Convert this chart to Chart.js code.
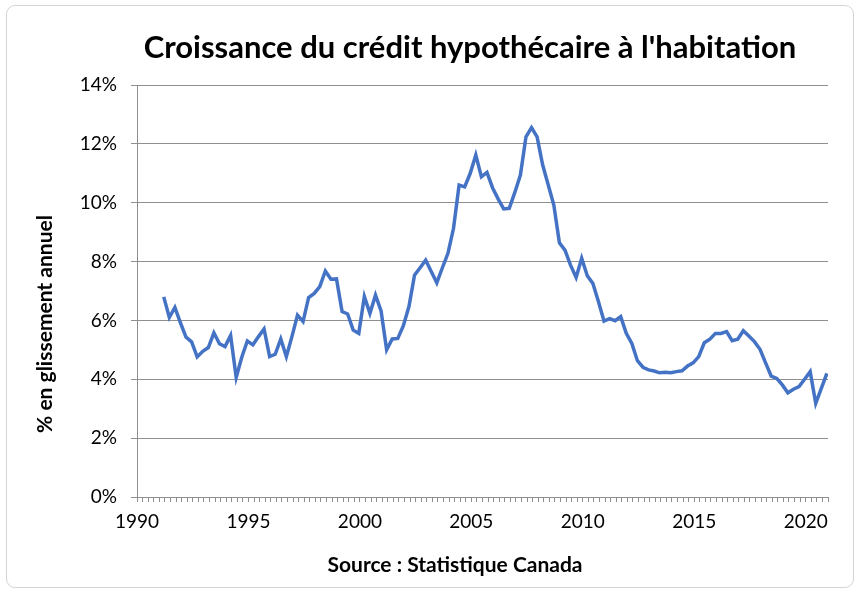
<!DOCTYPE html>
<html>
<head>
<meta charset="utf-8">
<script src="https://cdn.jsdelivr.net/npm/chart.js@4/dist/chart.umd.min.js"></script>
<style>
  html, body { margin: 0; padding: 0; background: #fff; }
  #wrap { position: relative; width: 859px; height: 592px; }
  #frame { position: absolute; left: 6px; top: 5px; width: 846px; height: 581px;
           border: 1px solid #d4d4d4; border-radius: 9px; pointer-events: none; }
  canvas { position: absolute; left: 0; top: 0; }
</style>
</head>
<body>
<div id="wrap">
  <canvas id="c" width="859" height="592"></canvas>
  <div id="frame"></div>
</div>
<script>
// Quarterly year-over-year growth of residential mortgage credit (%), first quarter plotted ~1991.2
const firstPeriod = 1991.2;
const periodStep = 0.25;
const growth = [
  6.80, 6.10, 6.44, 5.92, 5.43, 5.27, 4.76, 4.95, 5.08, 5.58,
  5.21, 5.11, 5.49, 4.06, 4.75, 5.30, 5.17, 5.45, 5.71, 4.77,
  4.85, 5.37, 4.77, 5.45, 6.18, 5.96, 6.78, 6.92, 7.15, 7.68,
  7.40, 7.41, 6.30, 6.22, 5.67, 5.56, 6.81, 6.24, 6.86, 6.32,
  5.00, 5.37, 5.39, 5.82, 6.47, 7.54, 7.79, 8.05, 7.66, 7.28,
  7.79, 8.28, 9.13, 10.60, 10.54, 11.00, 11.62, 10.88, 11.03, 10.51,
  10.13, 9.79, 9.81, 10.35, 10.94, 12.24, 12.55, 12.24, 11.28, 10.60,
  9.92, 8.64, 8.39, 7.88, 7.46, 8.11, 7.52, 7.26, 6.64, 5.98,
  6.06, 5.99, 6.13, 5.56, 5.22, 4.63, 4.41, 4.32, 4.28, 4.22,
  4.24, 4.22, 4.26, 4.29, 4.45, 4.56, 4.77, 5.24, 5.36, 5.56,
  5.56, 5.62, 5.31, 5.36, 5.65, 5.47, 5.28, 5.02, 4.56, 4.11,
  4.03, 3.81, 3.54, 3.66, 3.75, 4.00, 4.26, 3.18, 3.69, 4.20
];
const yearTickLabels = [1990, 1995, 2000, 2005, 2010, 2015, 2020];
const yTickLabels = ['0%', '2%', '4%', '6%', '8%', '10%', '12%', '14%'];

const titleText = "Croissance du crédit hypothécaire à l'habitation";
const yTitleText = '% en glissement annuel';
const xTitleText = 'Source : Statistique Canada';

const points = growth.map((v, i) => ({ x: firstPeriod + i * periodStep, y: v }));

const GRID = '#8f8f8f';
const FONT = 'Lato, "Open Sans", sans-serif';

const textPlugin = {
  id: 'texts',
  afterDraw(chart) {
    const ctx = chart.ctx;
    ctx.save();
    ctx.fillStyle = '#000';
    ctx.textAlign = 'center';
    ctx.textBaseline = 'middle';
    ctx.font = 'bold 31px ' + FONT;
    ctx.fillText(titleText, 470, 48);
    ctx.font = 'bold 21px ' + FONT;
    ctx.fillText(xTitleText, 455, 565);
    ctx.translate(45, 324);
    ctx.rotate(-Math.PI / 2);
    ctx.fillText(yTitleText, 0, 0);
    ctx.restore();
  }
};

new Chart(document.getElementById('c'), {
  type: 'line',
  data: {
    datasets: [{
      data: points,
      borderColor: '#4472C4',
      borderWidth: 3.5,
      pointRadius: 0,
      tension: 0,
      fill: false
    }]
  },
  options: {
    responsive: false,
    animation: false,
    events: [],
    layout: { padding: { left: 0, right: 31, top: 85, bottom: 0 } },
    plugins: { legend: { display: false }, title: { display: false }, tooltip: { enabled: false } },
    scales: {
      x: {
        type: 'linear',
        min: 1990,
        max: 2021,
        afterFit(s) { s.height = 95; },
        ticks: {
          stepSize: 0.25,
          autoSkip: false,
          maxRotation: 0,
          minRotation: 0,
          padding: 8,
          color: '#000',
          font: { family: FONT, size: 19 },
          callback(v) { return yearTickLabels.includes(v) ? String(v) : ''; }
        },
        grid: { drawOnChartArea: false, drawTicks: true, tickLength: 5, color: GRID },
        border: { display: true, color: GRID, width: 1 }
      },
      y: {
        min: 0,
        max: 14,
        afterFit(s) { s.width = 137; },
        ticks: {
          stepSize: 2,
          padding: 14,
          color: '#000',
          font: { family: FONT, size: 19 },
          callback(v) { return yTickLabels[Math.round(v / 2)]; }
        },
        grid: { color: GRID, tickLength: 6, drawTicks: true },
        border: { display: true, color: GRID, width: 1 }
      }
    }
  },
  plugins: [textPlugin]
});
</script>
</body>
</html>
